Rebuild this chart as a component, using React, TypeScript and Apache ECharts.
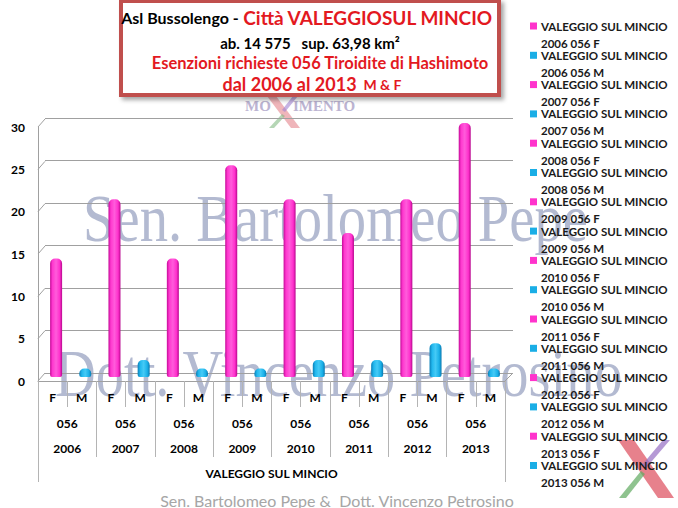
import React, { useEffect, useRef } from 'react';
import * as echarts from 'echarts';

const years = ['2006', '2007', '2008', '2009', '2010', '2011', '2012', '2013'];
const code = '056';
const sexes = ['F', 'M'];
const femaleValues = [14, 21, 14, 25, 21, 17, 21, 30];
const maleValues = [1, 2, 1, 1, 2, 2, 4, 1];
const yTicks = [0, 5, 10, 15, 20, 25, 30];
const municipality = 'VALEGGIO SUL MINCIO';

const FONT = 'Lato, "Open Sans", sans-serif';
const SERIF = '"Liberation Serif", "DejaVu Serif", serif';
const PINK = '#ff33cc';
const BLUE = '#1aaee6';
const RED = '#e3191f';
const GRID_GRAY = '#a0a0a0';
const TICK_GRAY = '#b4b4b4';

export default function App() {
  const ref = useRef<HTMLDivElement>(null);

  useEffect(() => {
    const chart = echarts.init(ref.current!, null, { renderer: 'svg' });
    const cats = years.flatMap(() => sexes);
    const fData = years.flatMap((_, i) => [femaleValues[i], '-']);
    const mData = years.flatMap((_, i) => ['-', maleValues[i]]);

    const pinkGrad = new echarts.graphic.LinearGradient(0, 0, 1, 0, [
      { offset: 0, color: '#c40a98' },
      { offset: 0.2, color: '#ff38cf' },
      { offset: 0.5, color: '#ff5cdb' },
      { offset: 0.8, color: '#ff30cc' },
      { offset: 1, color: '#b8078e' },
    ]);
    const blueGrad = new echarts.graphic.LinearGradient(0, 0, 1, 0, [
      { offset: 0, color: '#0a7fb8' },
      { offset: 0.22, color: '#22b8ee' },
      { offset: 0.5, color: '#45caf6' },
      { offset: 0.8, color: '#1ab0e8' },
      { offset: 1, color: '#0a7ab2' },
    ]);

    const legendItems: any[] = [];
    years.forEach((y, i) => {
      sexes.forEach((s, j) => {
        const k = i * 2 + j;
        const y0 = 26 + k * 29.3;
        legendItems.push({
          type: 'rect',
          z: 20,
          shape: { x: 530, y: y0 - 3.5, width: 7, height: 7 },
          style: { fill: j === 0 ? PINK : BLUE },
        });
        legendItems.push({
          type: 'text',
          z: 20,
          style: {
            x: 541, y: y0, text: municipality, fill: '#1a1a1a',
            font: `bold 11.5px ${FONT}`, verticalAlign: 'middle',
          },
        });
        legendItems.push({
          type: 'text',
          z: 20,
          style: {
            x: 541, y: y0 + 17, text: `${y} ${code} ${s}`, fill: '#1a1a1a',
            font: `bold 11.5px ${FONT}`, verticalAlign: 'middle',
          },
        });
      });
    });

    const graphics: any[] = [
      // watermarks
      {
        type: 'text', z: -5, x: 83, y: 218, scaleX: 0.833,
        style: { x: 0, y: 0, text: 'Sen. Bartolomeo Pepe', font: `68px ${SERIF}`, fill: 'rgba(128,140,178,0.6)', verticalAlign: 'middle' },
      },
      {
        type: 'text', z: -5, x: 55, y: 373, scaleX: 0.83,
        style: { x: 0, y: 0, text: 'Dott. Vincenzo Petrosino', font: `68px ${SERIF}`, fill: 'rgba(128,140,178,0.6)', verticalAlign: 'middle' },
      },
      // Moximento logo
      { type: 'text', z: -4, style: { x: 245, y: 106, text: 'MO', font: `bold 15px ${SERIF}`, fill: '#bcb4d2', verticalAlign: 'middle' } },
      { type: 'text', z: -4, style: { x: 293, y: 106, text: 'IMENTO', font: `bold 15px ${SERIF}`, fill: '#bcb4d2', verticalAlign: 'middle' } },
      { type: 'polygon', z: -4, shape: { points: [[267, 96], [276, 96], [300, 128], [291, 128]] }, style: { fill: 'rgba(225,120,130,0.55)' } },
      { type: 'polygon', z: -4, shape: { points: [[293, 96], [298, 96], [285, 112], [282, 110]] }, style: { fill: 'rgba(160,130,210,0.6)' } },
      { type: 'polygon', z: -4, shape: { points: [[282, 114], [285, 116], [274, 128], [269, 128]] }, style: { fill: 'rgba(120,180,120,0.55)' } },
      // bottom right logo
      { type: 'polygon', z: -4, shape: { points: [[618, 440], [634, 440], [674, 498], [658, 498]] }, style: { fill: 'rgba(222,80,95,0.72)' } },
      { type: 'polygon', z: -4, shape: { points: [[663, 440], [670, 440], [646, 468], [642, 465]] }, style: { fill: 'rgba(150,110,195,0.7)' } },
      { type: 'polygon', z: -4, shape: { points: [[641, 471], [645, 474], [626, 498], [619, 498]] }, style: { fill: 'rgba(95,170,95,0.7)' } },
      // bottom credits
      {
        type: 'text', z: 5,
        style: { x: 337, y: 500, text: 'Sen. Bartolomeo Pepe &  Dott. Vincenzo Petrosino', font: `16px ${FONT}`, fill: '#a6a6a6', align: 'center', verticalAlign: 'middle' },
      },
      // title box
      {
        type: 'rect', z: 30,
        shape: { x: 121, y: 1, width: 378, height: 94 },
        style: { fill: '#ffffff', stroke: '#c0504d', lineWidth: 4, shadowBlur: 4, shadowOffsetX: 3, shadowOffsetY: 3, shadowColor: 'rgba(0,0,0,0.35)' },
      },
      {
        type: 'text', z: 31,
        style: {
          x: 307, y: 17, align: 'center', verticalAlign: 'middle',
          text: '{a|Asl Bussolengo - }{b|Città VALEGGIOSUL MINCIO}',
          rich: {
            a: { fontSize: 16, fontWeight: 'bold', fontFamily: FONT, fill: '#000' },
            b: { fontSize: 19, fontWeight: 'bold', fontFamily: FONT, fill: RED },
          },
        },
      },
      {
        type: 'text', z: 31,
        style: { x: 310, y: 43, align: 'center', verticalAlign: 'middle', text: 'ab. 14 575   sup. 63,98 km²', font: `bold 15px ${FONT}`, fill: '#000' },
      },
      {
        type: 'text', z: 31,
        style: { x: 320, y: 63, align: 'center', verticalAlign: 'middle', text: 'Esenzioni richieste 056 Tiroidite di Hashimoto', font: `bold 16.5px ${FONT}`, fill: RED },
      },
      {
        type: 'text', z: 31,
        style: {
          x: 312, y: 84, align: 'center', verticalAlign: 'middle',
          text: '{a|dal 2006 al 2013}{b|  M & F}',
          rich: {
            a: { fontSize: 18, fontWeight: 'bold', fontFamily: FONT, fill: RED },
            b: { fontSize: 14, fontWeight: 'bold', fontFamily: FONT, fill: RED },
          },
        },
      },
      ...legendItems,
    ];

    const labelStyle = { fontFamily: FONT, fontWeight: 'bold' as const, fontSize: 12, color: '#000' };

    chart.setOption({
      animation: false,
      grid: [
        { left: 38, right: 173, top: 127, bottom: 127 },
        { left: 41.5, right: 169.5, top: 123, bottom: 131 },
        { left: 45, right: 165, top: 118, bottom: 135 },
      ],
      xAxis: [
        {
          type: 'category', gridIndex: 0, data: cats,
          axisLine: { show: true, lineStyle: { color: GRID_GRAY } },
          axisTick: { show: true, interval: 0, length: 26, lineStyle: { color: TICK_GRAY } },
          axisLabel: { ...labelStyle, interval: 0, margin: 10 },
        },
        {
          type: 'category', gridIndex: 0, data: years, position: 'bottom',
          axisLine: { show: false },
          axisTick: { show: true, interval: 0, length: 76, lineStyle: { color: TICK_GRAY } },
          axisLabel: { ...labelStyle, interval: 0, margin: 30, lineHeight: 25, formatter: (v: string) => `${code}\n${v}` },
        },
        {
          type: 'category', gridIndex: 0, data: [municipality], position: 'bottom',
          axisLine: { show: false },
          axisTick: { show: true, interval: 0, length: 101, lineStyle: { color: TICK_GRAY } },
          axisLabel: { ...labelStyle, interval: 0, margin: 86 },
        },
        { type: 'category', gridIndex: 1, data: cats, show: false },
        { type: 'category', gridIndex: 2, data: cats, show: false },
      ],
      yAxis: [
        {
          type: 'value', gridIndex: 0, min: 0, max: 30, interval: 5,
          axisLine: { show: true, lineStyle: { color: GRID_GRAY } },
          axisTick: { show: false },
          splitLine: { show: false },
          axisLabel: { ...labelStyle, margin: 13 },
        },
        { type: 'value', gridIndex: 1, min: 0, max: 30, interval: 5, show: false },
        {
          type: 'value', gridIndex: 2, min: 0, max: 30, interval: 5,
          axisLine: { show: false }, axisTick: { show: false }, axisLabel: { show: false },
          splitLine: { show: true, lineStyle: { color: GRID_GRAY, width: 1, type: 'solid' } },
        },
      ],
      series: [
        {
          type: 'custom', xAxisIndex: 0, yAxisIndex: 0, silent: true,
          data: yTicks.map((v) => [0, v]),
          renderItem: (params: any, api: any) => {
            const v = api.value(1);
            const y = api.coord([0, v])[1];
            const cs = params.coordSys;
            const children: any[] = [
              { type: 'line', shape: { x1: cs.x, y1: y, x2: cs.x + 7, y2: y - 8 }, style: { stroke: GRID_GRAY, lineWidth: 1 } },
            ];
            if (v === 0) {
              children.push({ type: 'line', shape: { x1: cs.x + cs.width, y1: y, x2: cs.x + cs.width + 8, y2: y - 8 }, style: { stroke: GRID_GRAY, lineWidth: 1 } });
            }
            return { type: 'group', children };
          },
        },
        {
          name: 'F', type: 'bar', xAxisIndex: 3, yAxisIndex: 1, data: fData,
          barWidth: 12, barGap: '-100%',
          itemStyle: { color: pinkGrad, borderRadius: [5, 5, 2, 2] },
        },
        {
          name: 'M', type: 'bar', xAxisIndex: 3, yAxisIndex: 1, data: mData,
          barWidth: 12, barGap: '-100%',
          itemStyle: { color: blueGrad, borderRadius: [5, 5, 2, 2] },
        },
      ],
      graphic: graphics,
    });

    return () => chart.dispose();
  }, []);

  return (
    <div
      ref={ref}
      style={{ position: 'fixed', left: 0, top: 0, width: 678, height: 508, background: '#ffffff' }}
    />
  );
}
